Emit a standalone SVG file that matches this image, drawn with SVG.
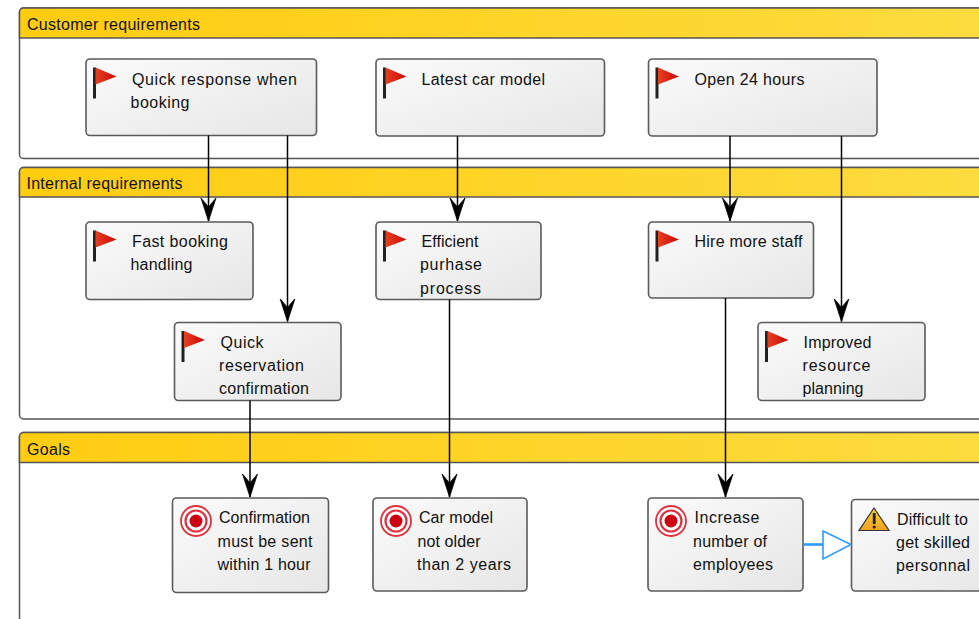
<svg xmlns="http://www.w3.org/2000/svg" width="979" height="619" viewBox="0 0 979 619">
<style>
text{font-family:"Liberation Sans",Arial,sans-serif;font-size:16px;fill:#111}
.panel{fill:#fff;stroke:#555;stroke-width:1.5}
.head{fill:url(#gold);stroke:#555;stroke-width:1.5}
.box{fill:url(#grey);stroke:#5a5a5a;stroke-width:1.6}
.c{fill:none;stroke:#000;stroke-width:1.5}
.pole{stroke:#222;stroke-width:3}
.flag{fill:url(#red)}
</style>
<defs>
<linearGradient id="gold" x1="0" y1="0" x2="1" y2="0"><stop offset="0" stop-color="#ffcc10"/><stop offset="1" stop-color="#fcdc40"/></linearGradient>
<linearGradient id="grey" x1="0" y1="0" x2="1" y2="1"><stop offset="0" stop-color="#fbfbfb"/><stop offset="1" stop-color="#e6e6e6"/></linearGradient>
<linearGradient id="red" x1="0" y1="0" x2="1" y2="0"><stop offset="0" stop-color="#e84020"/><stop offset="1" stop-color="#c80808"/></linearGradient>
<linearGradient id="warn" x1="0" y1="0" x2="0" y2="1"><stop offset="0" stop-color="#fbd234"/><stop offset="1" stop-color="#f0a020"/></linearGradient>
<g id="flagIcon"><line class="pole" x1="0" y1="0" x2="0" y2="31"/><path class="flag" d="M1 0L22 9L1 17Z"/></g>
<g id="goalIcon"><circle r="15" fill="#fff" stroke="#e0303c" stroke-width="1.800"/><circle r="10.500" fill="#fff" stroke="#e0303c" stroke-width="2.200"/><circle r="6.500" fill="#cc0010"/></g>
<marker id="barb" markerUnits="userSpaceOnUse" markerWidth="18" markerHeight="24" refX="8" refY="23" orient="0" viewBox="0 0 16 24"><path d="M0.500 0L8 9L15.500 0L8 23Z" fill="#000" stroke="#000" stroke-width="0.800" stroke-linejoin="round"/></marker>
</defs>

<g id="panel-customer"><rect class="panel" x="19.5" y="8" width="980" height="150.500" rx="4"/><path class="head" d="M19.500 38V12a4 4 0 0 1 4-4H999V38Z"/><text x="27" y="30" textLength="173">Customer requirements</text></g>
<g id="panel-internal"><rect class="panel" x="19.5" y="167.500" width="980" height="251.500" rx="4"/><path class="head" d="M19.500 197V171.500a4 4 0 0 1 4-4H999V197Z"/><text x="26.500" y="189" textLength="156">Internal requirements</text></g>
<g id="panel-goals"><rect class="panel" x="19.5" y="432.500" width="980" height="260" rx="4"/><path class="head" d="M19.500 462.500V436.500a4 4 0 0 1 4-4H999V462.500Z"/><text x="27" y="455" textLength="43">Goals</text></g>

<g id="n1"><rect class="box" x="86" y="59" width="230.500" height="76.500" rx="4"/><use href="#flagIcon" x="94.500" y="67.500"/><text x="132" y="84.500" textLength="165">Quick response when</text><text x="130.500" y="107.500" textLength="59">booking</text></g>
<g id="n2"><rect class="box" x="376" y="59" width="228.500" height="77" rx="4"/><use href="#flagIcon" x="384.500" y="67.500"/><text x="421.500" y="84.500" textLength="123.500">Latest car model</text></g>
<g id="n3"><rect class="box" x="648.500" y="59" width="228.500" height="77" rx="4"/><use href="#flagIcon" x="657" y="67.500"/><text x="694.500" y="84.500" textLength="110">Open 24 hours</text></g>
<g id="n4"><rect class="box" x="86" y="222" width="167" height="77.500" rx="4"/><use href="#flagIcon" x="94.500" y="230.500"/><text x="132" y="247" textLength="96">Fast booking</text><text x="130.500" y="270" textLength="62">handling</text></g>
<g id="n5"><rect class="box" x="376" y="222" width="165" height="77.500" rx="4"/><use href="#flagIcon" x="384.500" y="230.500"/><text x="421.500" y="247" textLength="57">Efficient</text><text x="420" y="270" textLength="62">purhase</text><text x="420" y="293.500" textLength="61">process</text></g>
<g id="n6"><rect class="box" x="648.500" y="222" width="165" height="76" rx="4"/><use href="#flagIcon" x="657" y="230.500"/><text x="694.500" y="247" textLength="108">Hire more staff</text></g>
<g id="n7"><rect class="box" x="174.500" y="322.500" width="166.500" height="78" rx="4"/><use href="#flagIcon" x="183" y="331"/><text x="220.500" y="347.500" textLength="43">Quick</text><text x="219" y="371" textLength="85">reservation</text><text x="219" y="394" textLength="90">confirmation</text></g>
<g id="n8"><rect class="box" x="758" y="322.500" width="167" height="78" rx="4"/><use href="#flagIcon" x="766.500" y="331"/><text x="803.500" y="347.500" textLength="68">Improved</text><text x="802.500" y="371" textLength="68">resource</text><text x="802.500" y="394" textLength="61">planning</text></g>
<g id="n9"><rect class="box" x="172.500" y="498" width="156" height="94.500" rx="4"/><use href="#goalIcon" x="196" y="521"/><text x="219" y="523" textLength="91">Confirmation</text><text x="217.500" y="546.500" textLength="95">must be sent</text><text x="217.500" y="569.500" textLength="93">within 1 hour</text></g>
<g id="n10"><rect class="box" x="373" y="498" width="154" height="93" rx="4"/><use href="#goalIcon" x="396" y="521"/><text x="419" y="523" textLength="74">Car model</text><text x="417.500" y="546.500" textLength="63">not older</text><text x="417" y="569.500" textLength="94">than 2 years</text></g>
<g id="n11"><rect class="box" x="648" y="498" width="155" height="93" rx="4"/><use href="#goalIcon" x="671" y="521"/><text x="694.500" y="523" textLength="65">Increase</text><text x="693" y="546.500" textLength="74">number of</text><text x="693" y="569.500" textLength="80">employees</text></g>
<g id="n12"><rect class="box" x="851.500" y="499.500" width="160" height="91.500" rx="4"/><path d="M874 508L859 530.500H889Z" fill="url(#warn)" stroke="#333" stroke-width="1.200"/><rect x="872.800" y="513" width="2.800" height="11" fill="#222"/><circle cx="874.200" cy="527" r="1.600" fill="#222"/><text x="897" y="524.500" textLength="71">Difficult to</text><text x="896" y="548" textLength="74">get skilled</text><text x="896" y="571" textLength="74">personnal</text></g>

<g id="connectors">
<line class="c" x1="208.500" y1="135.500" x2="208.500" y2="221" marker-end="url(#barb)"/>
<line class="c" x1="287.500" y1="135.500" x2="287.500" y2="321.500" marker-end="url(#barb)"/>
<line class="c" x1="457.500" y1="136" x2="457.500" y2="221" marker-end="url(#barb)"/>
<line class="c" x1="730" y1="136" x2="730" y2="221" marker-end="url(#barb)"/>
<line class="c" x1="841.500" y1="136" x2="841.500" y2="321.500" marker-end="url(#barb)"/>
<line class="c" x1="250" y1="400.500" x2="250" y2="497" marker-end="url(#barb)"/>
<line class="c" x1="449.500" y1="299.500" x2="449.500" y2="497" marker-end="url(#barb)"/>
<line class="c" x1="725.500" y1="298" x2="725.500" y2="497" marker-end="url(#barb)"/>
<line x1="803" y1="544.500" x2="823" y2="544.500" stroke="#2f9bff" stroke-width="2.600"/>
<path d="M823 531L851 544.500L823 559Z" fill="#fff" stroke="#2f9bff" stroke-width="1.600"/>
</g>
</svg>
